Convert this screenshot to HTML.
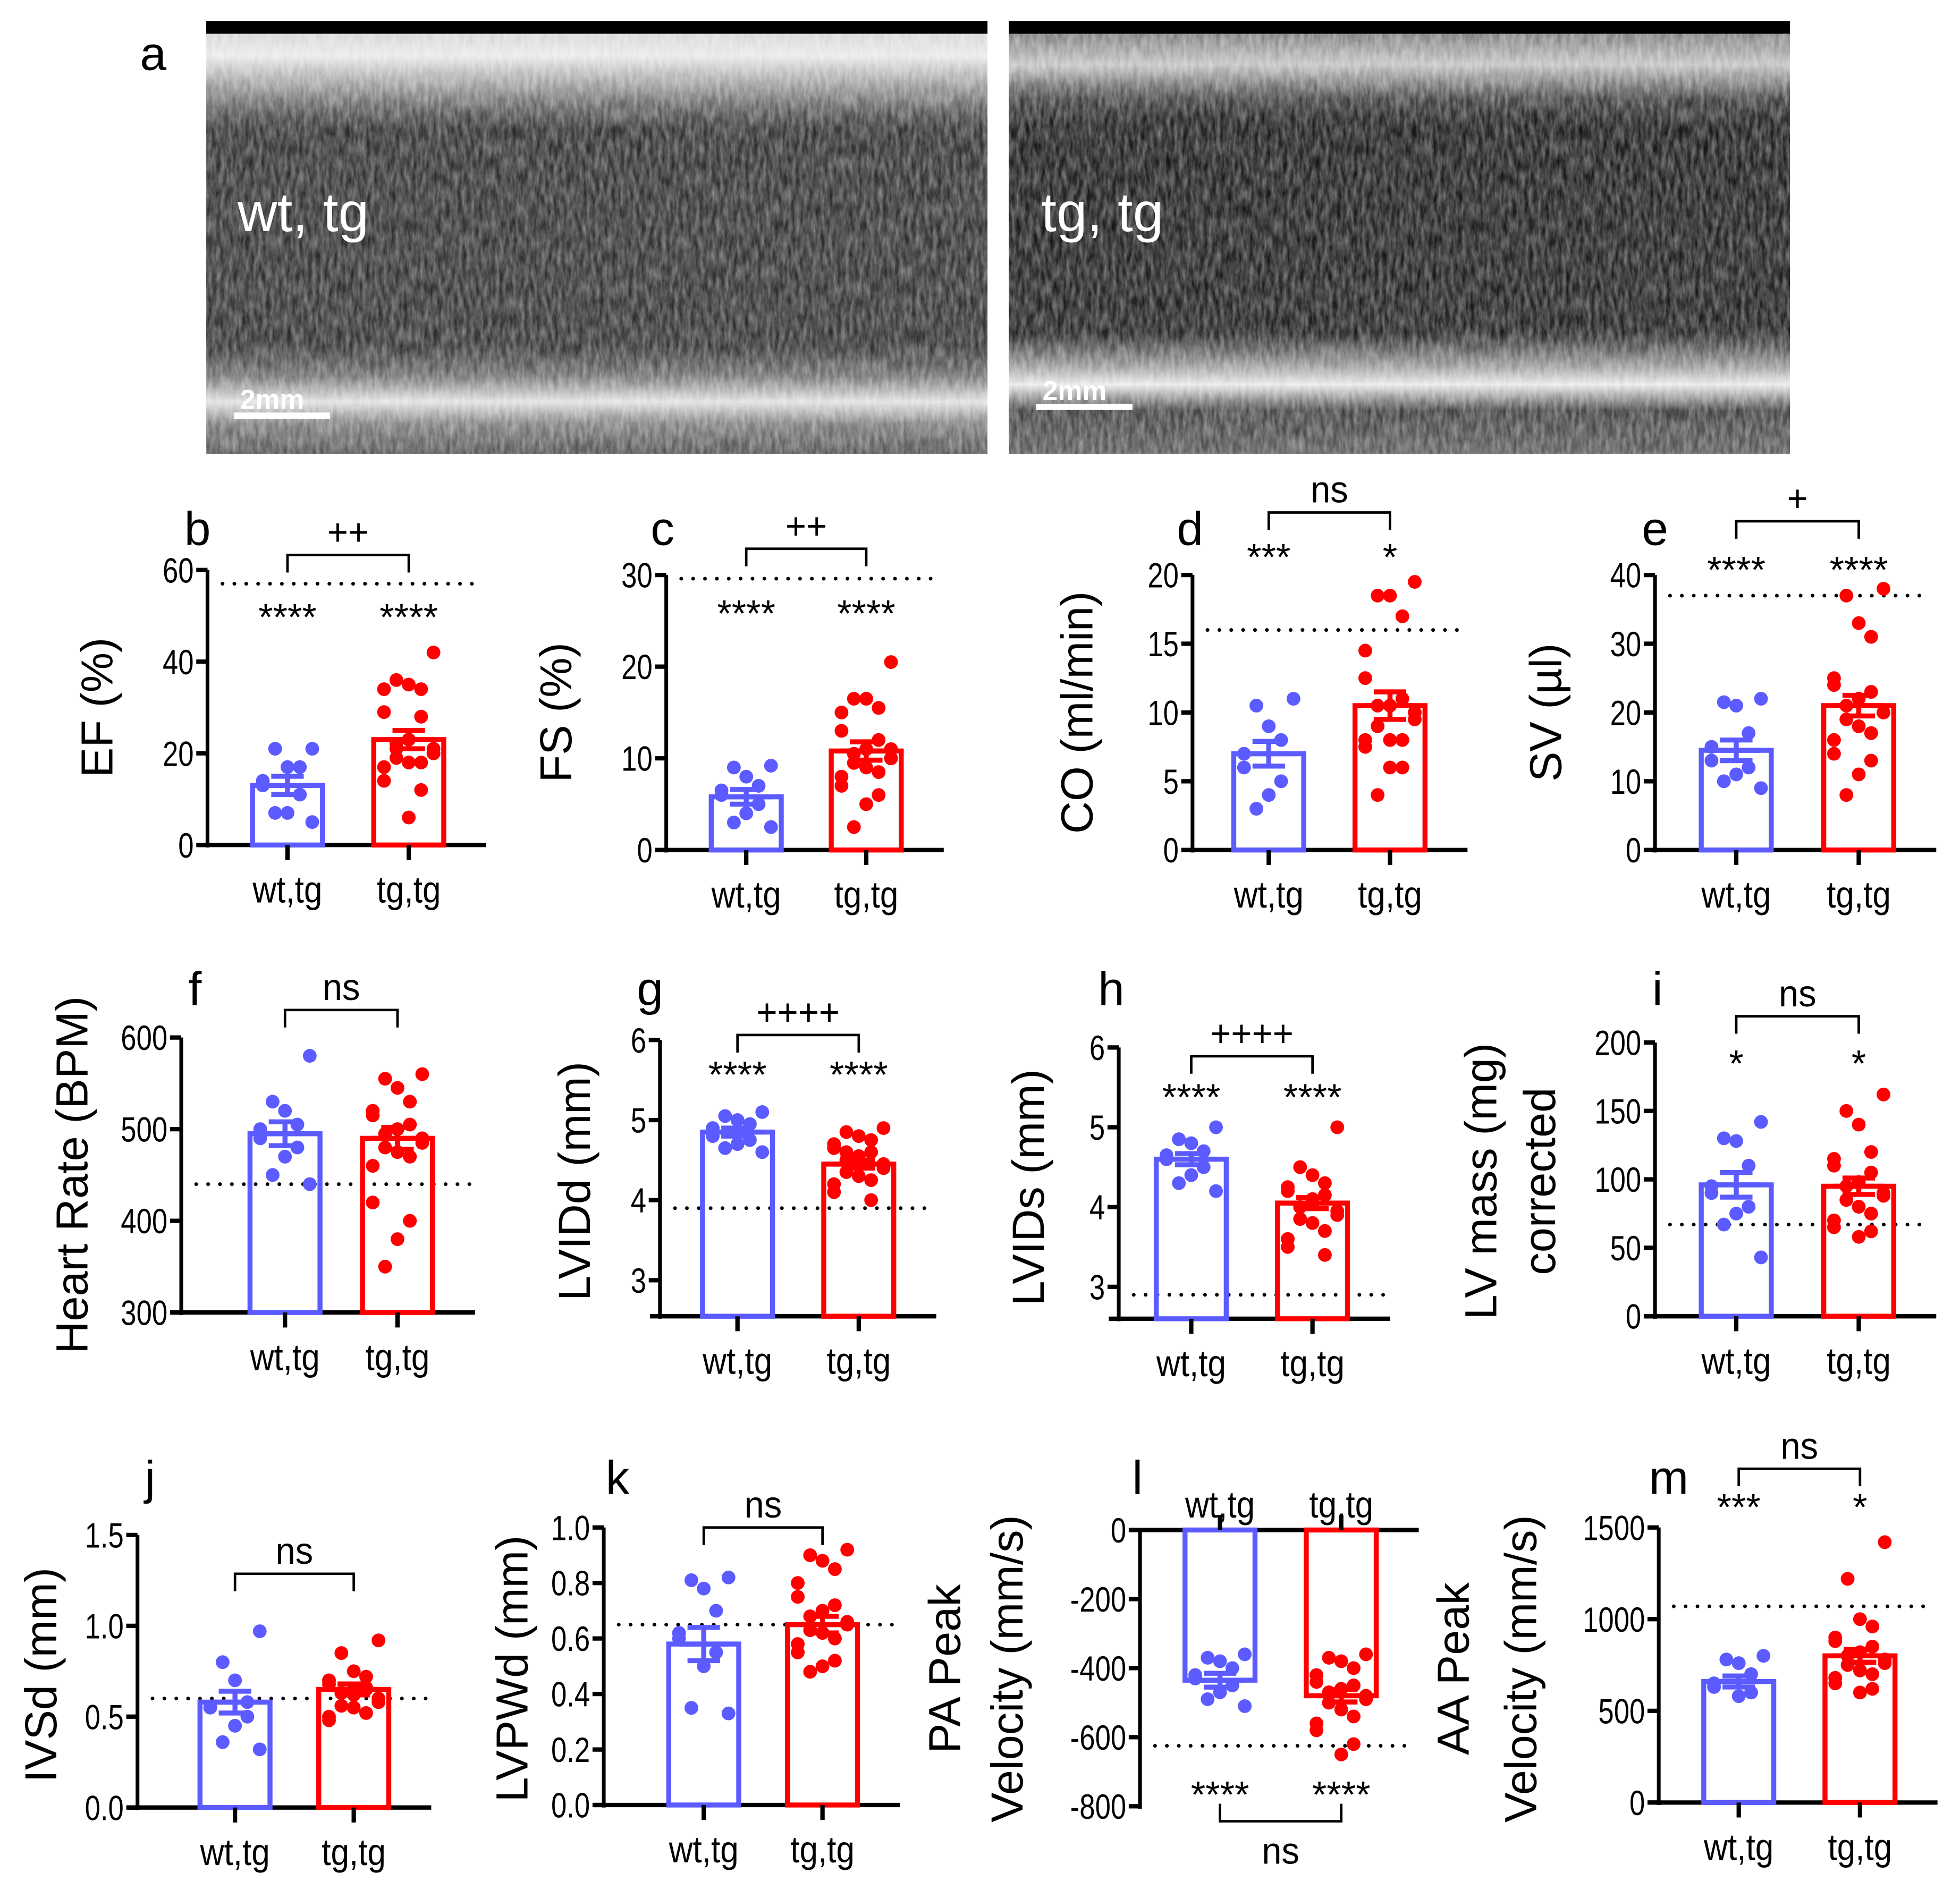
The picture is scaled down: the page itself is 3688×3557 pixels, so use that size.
<!DOCTYPE html>
<html><head><meta charset="utf-8"><style>
html,body{margin:0;padding:0;background:#fff;}
svg{display:block;}
text{font-family:"Liberation Sans",Arial,sans-serif;}
</style></head><body>
<svg id="fig" width="3688" height="3557" viewBox="0 0 1568 1512" preserveAspectRatio="none" xmlns="http://www.w3.org/2000/svg">
<defs>
<filter id="noise" x="0" y="0" width="100%" height="100%">
<feTurbulence type="fractalNoise" baseFrequency="0.3 0.08" numOctaves="3" seed="3"/>
<feColorMatrix type="matrix" values="0 0 0 0 1  0 0 0 0 1  0 0 0 0 1  0 0 0 0.6 -0.1"/>
</filter>
<linearGradient id="echoL" x1="0" y1="0" x2="0" y2="1">
<stop offset="0" stop-color="#c8c8c8"/><stop offset="0.08" stop-color="#e8e8e8"/><stop offset="0.2" stop-color="#5a5a5a"/><stop offset="0.25" stop-color="#2a2a2a"/><stop offset="0.75" stop-color="#2c2c2c"/><stop offset="0.82" stop-color="#6a6a6a"/><stop offset="0.88" stop-color="#e0e0e0"/><stop offset="0.93" stop-color="#7a7a7a"/><stop offset="1" stop-color="#4a4a4a"/>
</linearGradient>
<linearGradient id="echoR" x1="0" y1="0" x2="0" y2="1">
<stop offset="0" stop-color="#5a5a5a"/><stop offset="0.1" stop-color="#c0c0c0"/><stop offset="0.18" stop-color="#3a3a3a"/><stop offset="0.24" stop-color="#151515"/><stop offset="0.72" stop-color="#1a1a1a"/><stop offset="0.8" stop-color="#9a9a9a"/><stop offset="0.84" stop-color="#e8e8e8"/><stop offset="0.9" stop-color="#3a3a3a"/><stop offset="1" stop-color="#555"/>
</linearGradient>
</defs>
<g>
<text x="112" y="56" font-size="38">a</text>
<rect x="165" y="17" width="625" height="346" fill="url(#echoL)"/>
<rect x="165" y="17" width="625" height="346" filter="url(#noise)"/>
<rect x="165" y="17" width="625" height="10" fill="#000"/>
<text x="190" y="185" font-size="44" fill="#fff">wt, tg</text>
<rect x="187" y="330" width="77" height="5" fill="#fff"/>
<text x="192" y="327" font-size="22" font-weight="bold" fill="#fff">2mm</text>
<rect x="807" y="17" width="625" height="346" fill="url(#echoR)"/>
<rect x="807" y="17" width="625" height="346" filter="url(#noise)"/>
<rect x="807" y="17" width="625" height="10" fill="#000"/>
<text x="833" y="185" font-size="44" fill="#fff">tg, tg</text>
<rect x="829" y="323" width="77" height="5" fill="#fff"/>
<text x="834" y="320" font-size="22" font-weight="bold" fill="#fff">2mm</text>
</g>
<g id="charts"></g>
</svg>
<script>
// ---- data arrays ----
const categories = ["wt,tg","tg,tg"];
const efWt=[21,21,17,17,14,13,11,7,7,5], efTg=[42,36,35,34,34,29,28,23,22,21,20,19,18,18,17,14,12,6,21,20];
const efMean=[13,23], efSem=[2,2];
const fsWt=[9.2,9,8,7,6.5,6,5,4,3,2.5], fsTg=[20.5,16.5,16.5,15.5,15,13,12,11,10.5,10,10,9.5,9,8.5,8,7,6,5,2.5,11];
const fsMean=[5.8,10.8], fsSem=[0.8,1];
const coWt=[11,10.5,9,8,7,6,5,4,3], coTg=[19.5,18.5,18.5,17,14.5,12.5,11,10.5,10.5,10,9.5,9,8,8,8,7.5,6,6,4];
const coMean=[7,10.5], coSem=[0.9,1];
const svWt=[22,21.5,21,17,15,13,12,11,10,9], svTg=[38,37,33,31,25,24,23,22,21,20,20,19,18,17,16,14,13,11,8];
const svMean=[14.5,21], svSem=[1.5,1.5];
const hrWt=[580,530,520,505,500,490,480,470,450,440], hrTg=[560,555,545,530,520,515,505,500,495,490,485,480,475,470,460,420,400,380,350];
const hrMean=[495,490], hrSem=[13,12];
const lviddWt=[5.1,5.05,5.0,4.95,4.9,4.8,4.75,4.7,4.65,4.6], lviddTg=[4.9,4.85,4.8,4.75,4.7,4.65,4.6,4.55,4.5,4.45,4.4,4.35,4.3,4.25,4.2,4.1,4.0,4.5,4.6];
const lviddMean=[4.85,4.45], lviddSem=[0.05,0.05];
const lvidsWt=[5.0,4.85,4.8,4.7,4.65,4.6,4.5,4.4,4.3,4.2], lvidsTg=[5.0,4.5,4.4,4.3,4.25,4.2,4.15,4.1,4.0,3.95,3.9,3.85,3.8,3.7,3.6,3.5,3.4,4.05];
const lvidsMean=[4.6,4.05], lvidsSem=[0.07,0.07];
const lvmWt=[142,130,128,110,95,90,80,75,67,43], lvmTg=[162,150,140,120,115,110,105,98,95,90,88,85,80,75,70,65,62,58];
const lvmMean=[96,95], lvmSem=[9,6];
const ivsWt=[0.97,0.8,0.7,0.58,0.55,0.55,0.5,0.45,0.36,0.32], ivsTg=[0.92,0.85,0.75,0.72,0.7,0.68,0.66,0.65,0.63,0.6,0.58,0.56,0.55,0.52,0.5,0.48,0.65,0.62];
const ivsMean=[0.58,0.65], ivsSem=[0.06,0.03];
const pwWt=[0.82,0.81,0.78,0.7,0.62,0.6,0.55,0.5,0.35,0.33], pwTg=[0.92,0.9,0.88,0.85,0.8,0.75,0.72,0.7,0.68,0.66,0.65,0.63,0.62,0.6,0.58,0.55,0.52,0.5,0.48];
const pwMean=[0.58,0.65], pwSem=[0.06,0.03];
const paWt=[-360,-370,-380,-400,-420,-430,-450,-470,-490,-510], paTg=[-360,-370,-380,-400,-420,-440,-450,-460,-470,-480,-490,-500,-520,-540,-560,-580,-620,-650];
const paMean=[-435,-480], paSem=[20,18];
const aaWt=[800,780,760,700,650,630,600,580], aaTg=[1420,1220,1000,960,900,880,850,820,800,780,760,750,720,700,680,650,620,600];
const aaMean=[660,800], aaSem=[30,35];
const efTicks=[0,20,40,60], fsTicks=[0,10,20,30], coTicks=[0,5,10,15,20], svTicks=[0,10,20,30,40];
const hrTicks=[300,400,500,600], lvidTicks=[3,4,5,6], lvmTicks=[0,50,100,150,200];
const ivsTicks=["0.0","0.5","1.0","1.5"], pwTicks=["0.0","0.2","0.4","0.6","0.8","1.0"], paTicks=[0,-200,-400,-600,-800], aaTicks=[0,500,1000,1500];

const NS="http://www.w3.org/2000/svg";
const root=document.getElementById("charts");
function mk(tag,attrs,parent){const e=document.createElementNS(NS,tag);for(const k in attrs)e.setAttribute(k,attrs[k]);(parent||root).appendChild(e);return e;}
function tx(parent,x,y,s,size,anchor,name,sx){const t=mk("text",{x:0,y:0,"font-size":size,"text-anchor":anchor||"middle",transform:`translate(${x},${y}) scale(${sx||0.9},1)`},parent);t.textContent=s;


return t;}

function panel(o){
  const g=mk("g",{});
  
  
  const ys=v=>o.y1+(v-o.v1)*(o.y0-o.y1)/(o.v0-o.v1);
  const base = o.invert ? o.y1 : o.y0;
  const xR=o.cx[1]+62;
  const yax=mk("line",{x1:o.ax,y1:Math.min(o.y1,o.y0),x2:o.ax,y2:Math.max(o.y1,o.y0)+2,stroke:"#000","stroke-width":3},g);
  
  
  const xax=mk("line",{x1:o.ax-8,y1:base,x2:xR,y2:base,stroke:"#000","stroke-width":3.5},g);
  
  
  o.ticks.forEach(t=>{const v=parseFloat(t);const y=ys(v);
    const l=mk("line",{x1:o.ax-9,y1:y,x2:o.ax,y2:y,stroke:"#000","stroke-width":3.5},g);
    
    
    tx(g,o.ax-11,y+10,String(t),28,"end","y-tick-label",0.8);});
  const dl=mk("line",{x1:o.ax+12,y1:ys(o.ref),x2:xR-4,y2:ys(o.ref),stroke:"#000","stroke-width":3,"stroke-dasharray":"0 9.5","stroke-linecap":"round"},g);
  
  
  const cols=["#5b5bff","#ff0000"];
  [0,1].forEach(i=>{
    const cx=o.cx[i], m=o.mean[i], s=o.sem[i], pts=o.pts[i];
    const yt=ys(m);
    const b=mk("rect",{x:cx-28,y:Math.min(yt,base),width:56,height:Math.abs(base-yt),fill:"none",stroke:cols[i],"stroke-width":4},g);
    
    
    pts.forEach((v,k)=>{const off=((k%5)-2)*11*(k%2?1:-1)*0.9;
      const c=mk("circle",{cx:cx+off,cy:ys(v),r:5.5,fill:cols[i]},g);
      
      });
    const e1=ys(m+s), e2=ys(m-s);
    const ep=mk("path",{d:`M${cx},${e1}V${e2}M${cx-13},${e1}H${cx+13}M${cx-13},${e2}H${cx+13}M${cx-20},${yt}H${cx+20}`,stroke:cols[i],"stroke-width":4,fill:"none"},g);
    
    
    const xt=mk("line",{x1:cx,y1:base,x2:cx,y2:base+(o.invert?-12:12),stroke:"#000","stroke-width":3.5},g);
    
    
    tx(g,cx,o.invert?base-10:base+46,categories[i],30,"middle","x-tick-label",0.88);
    if(o.stars&&o.stars[i]) tx(g,cx,o.starY+4,o.stars[i],30,"middle","significance-stars",1);
  });
  const by=o.brY, dir=o.invert?-1:1;
  const br=mk("path",{d:`M${o.cx[0]},${by+14*dir}V${by}H${o.cx[1]}V${by+14*dir}`,stroke:"#000","stroke-width":2,fill:"none"},g);
  
  
  tx(g,(o.cx[0]+o.cx[1])/2,o.invert?by+34:by-8,o.brText,30,"middle","comparison-label",0.95);
  tx(g,o.lx,o.ly,o.letter,38,"middle","panel-label-"+o.letter,1);
  o.titles.forEach((t,k)=>{const tt=mk("text",{x:0,y:0,"font-size":36,"text-anchor":"middle",transform:`translate(${o.tx[k]},${o.tyc}) rotate(-90)`},g);tt.textContent=t;
    
    });
}

panel({letter:"b",lx:158,ly:436,ax:166,y1:456,v1:60,y0:676,v0:0,cx:[230,327],ticks:efTicks,ref:57,mean:efMean,sem:efSem,pts:[efWt,efTg],stars:["****","****"],starY:500,brY:444,brText:"++",titles:["EF (%)"],tx:[90],tyc:566});
panel({letter:"c",lx:530,ly:436,ax:533,y1:460,v1:30,y0:680,v0:0,cx:[597,693],ticks:fsTicks,ref:29.6,mean:fsMean,sem:fsSem,pts:[fsWt,fsTg],stars:["****","****"],starY:497,brY:439,brText:"++",titles:["FS (%)"],tx:[457],tyc:570});
panel({letter:"d",lx:952,ly:436,ax:954,y1:460,v1:20,y0:680,v0:0,cx:[1015,1112],ticks:coTicks,ref:16,mean:coMean,sem:coSem,pts:[coWt,coTg],stars:["***","*"],starY:452,brY:410,brText:"ns",titles:["CO (ml/min)"],tx:[874],tyc:570});
panel({letter:"e",lx:1324,ly:436,ax:1324,y1:460,v1:40,y0:680,v0:0,cx:[1389,1487],ticks:svTicks,ref:37,mean:svMean,sem:svSem,pts:[svWt,svTg],stars:["****","****"],starY:462,brY:417,brText:"+",titles:["SV (µl)"],tx:[1249],tyc:570});

panel({letter:"f",lx:156,ly:804,ax:145,y1:830,v1:600,y0:1050,v0:300,cx:[228,318],ticks:hrTicks,ref:440,mean:hrMean,sem:hrSem,pts:[hrWt,hrTg],stars:null,brY:808,brText:"ns",titles:["Heart Rate (BPM)"],tx:[70],tyc:940});
panel({letter:"g",lx:520,ly:804,ax:528,y1:832,v1:6,y0:1053,v0:2.55,cx:[590,687],ticks:lvidTicks,ref:3.9,mean:lviddMean,sem:lviddSem,pts:[lviddWt,lviddTg],stars:["****","****"],starY:866,brY:828,brText:"++++",titles:["LVIDd (mm)"],tx:[472],tyc:945});
panel({letter:"h",lx:889,ly:804,ax:895,y1:838,v1:6,y0:1055,v0:2.6,cx:[953,1050],ticks:lvidTicks,ref:2.9,mean:lvidsMean,sem:lvidsSem,pts:[lvidsWt,lvidsTg],stars:["****","****"],starY:884,brY:845,brText:"++++",titles:["LVIDs (mm)"],tx:[835],tyc:950});
panel({letter:"i",lx:1326,ly:804,ax:1324,y1:834,v1:200,y0:1053,v0:0,cx:[1389,1487],ticks:lvmTicks,ref:67,mean:lvmMean,sem:lvmSem,pts:[lvmWt,lvmTg],stars:["*","*"],starY:857,brY:813,brText:"ns",titles:["LV mass (mg)","corrected"],tx:[1197,1244],tyc:945});

panel({letter:"j",lx:120,ly:1195,ax:110,y1:1228,v1:1.5,y0:1446,v0:0,cx:[188,283],ticks:ivsTicks,ref:0.6,mean:ivsMean,sem:ivsSem,pts:[ivsWt,ivsTg],stars:null,brY:1259,brText:"ns",titles:["IVSd (mm)"],tx:[45],tyc:1340});
panel({letter:"k",lx:494,ly:1195,ax:483,y1:1222,v1:1.0,y0:1444,v0:0,cx:[563,658],ticks:pwTicks,ref:0.65,mean:pwMean,sem:pwSem,pts:[pwWt,pwTg],stars:null,brY:1222,brText:"ns",titles:["LVPWd (mm)"],tx:[422],tyc:1335});
panel({letter:"l",lx:910,ly:1195,ax:912,y1:1224,v1:0,y0:1445,v0:-800,cx:[976,1073],ticks:paTicks,ref:-625,mean:paMean,sem:paSem,pts:[paWt,paTg],stars:["****","****"],starY:1442,brY:1457,brText:"ns",invert:true,titles:["PA Peak","Velocity (mm/s)"],tx:[768,818],tyc:1335});
panel({letter:"m",lx:1335,ly:1195,ax:1327,y1:1222,v1:1500,y0:1442,v0:0,cx:[1391,1488],ticks:aaTicks,ref:1070,mean:aaMean,sem:aaSem,pts:[aaWt,aaTg],stars:["***","*"],starY:1212,brY:1175,brText:"ns",titles:["AA Peak","Velocity (mm/s)"],tx:[1175,1229],tyc:1335});
</script>
</body></html>
